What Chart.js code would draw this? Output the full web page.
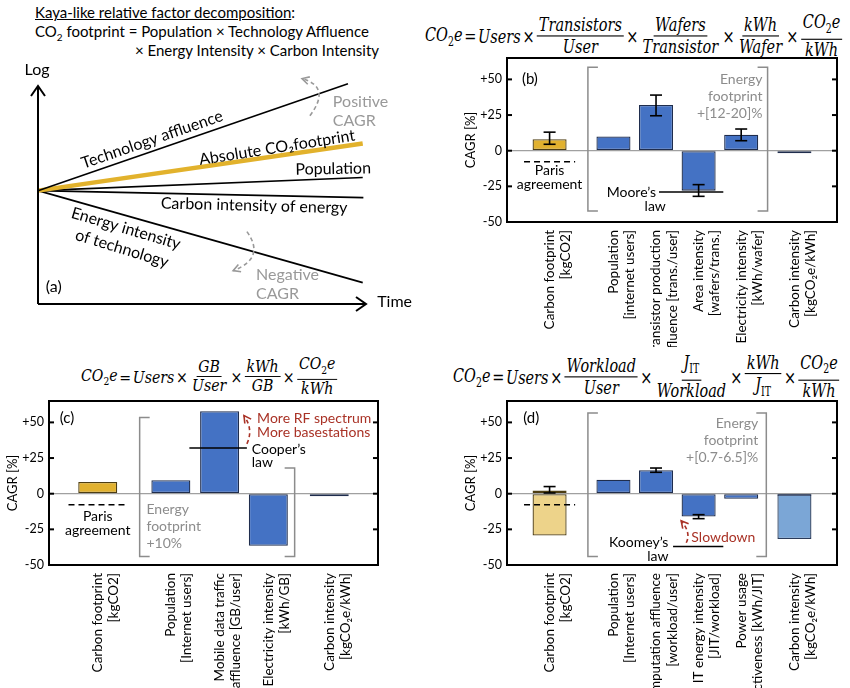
<!DOCTYPE html>
<html>
<head>
<meta charset="utf-8">
<script src="https://cdn.jsdelivr.net/npm/chart.js@4.4.1/dist/chart.umd.min.js"></script>
<style>
  body { margin: 0; background: #fff; width: 850px; height: 688px; position: relative; overflow: hidden; font-family: Lato, sans-serif; }
  canvas { position: absolute; }
  .txt { position: absolute; font-size: 15px; color: #000; white-space: nowrap; }
  .eq { position: absolute; display: flex; align-items: center; font-family: 'DejaVu Serif', serif; font-style: italic; font-size: 17px; white-space: nowrap; }
  .eq .op { font-style: normal; margin: 0 2px; }
  .eq sub { font-style: normal; font-size: 11px; }
  .fr { display: inline-flex; flex-direction: column; align-items: center; margin: 0 1px; }
  .fr > span { padding: 0 2px; line-height: 19px; }
  .fr > span:first-child { border-bottom: 1.3px solid #000; }
</style>
</head>
<body>

<div class="txt" style="left:35px; top:3px"><u>Kaya-like relative factor decomposition</u>:</div>
<div class="txt" style="left:35px; top:22px">CO<sub style="font-size:10px">2</sub> footprint = Population × Technology Affluence</div>
<div class="txt" style="left:135px; top:41px">× Energy Intensity × Carbon Intensity</div>

<div class="eq" id="eqB">
  <span>CO<sub>2</sub>e</span><span class="op">=</span><span>Users</span><span class="op">×</span>
  <span class="fr"><span>Transistors</span><span>User</span></span><span class="op">×</span>
  <span class="fr"><span>Wafers</span><span>Transistor</span></span><span class="op">×</span>
  <span class="fr"><span>kWh</span><span>Wafer</span></span><span class="op">×</span>
  <span class="fr"><span>CO<sub>2</sub>e</span><span>kWh</span></span>
</div>

<div class="eq" id="eqC">
  <span>CO<sub>2</sub>e</span><span class="op">=</span><span>Users</span><span class="op">×</span>
  <span class="fr"><span>GB</span><span>User</span></span><span class="op">×</span>
  <span class="fr"><span>kWh</span><span>GB</span></span><span class="op">×</span>
  <span class="fr"><span>CO<sub>2</sub>e</span><span>kWh</span></span>
</div>

<div class="eq" id="eqD">
  <span>CO<sub>2</sub>e</span><span class="op">=</span><span>Users</span><span class="op">×</span>
  <span class="fr"><span>Workload</span><span>User</span></span><span class="op">×</span>
  <span class="fr"><span>J<sub>IT</sub></span><span>Workload</span></span><span class="op">×</span>
  <span class="fr"><span>kWh</span><span>J<sub>IT</sub></span></span><span class="op">×</span>
  <span class="fr"><span>CO<sub>2</sub>e</span><span>kWh</span></span>
</div>

<canvas id="chartA" width="425" height="260" style="left:0; top:60px"></canvas>
<canvas id="chartB" width="425" height="297" style="left:425px; top:50px"></canvas>
<canvas id="chartC" width="425" height="293" style="left:0; top:395px"></canvas>
<canvas id="chartD" width="425" height="293" style="left:425px; top:395px"></canvas>

<script>
// ---- panel (a): schematic trends (log scale vs time) ----
const aSeries = ['Technology affluence', 'Absolute CO2 footprint', 'Population', 'Carbon intensity of energy', 'Energy intensity of technology'];
const aEndTime = [9.45, 9.9, 9.9, 9.92, 9.9];
const aEndLog = [4.9, 2.16, 0.6, -0.32, -4.22];

// ---- shared y ticks of the CAGR panels ----
const yTicks = [-50, -25, 0, 25, 50];
const parisTarget = -7.7;

// ---- panel (b): semiconductor manufacturing ----
const bLabels = [['Carbon footprint', '[kgCO2]'], ['Population', '[internet users]'], ['Transistor production', 'affluence [trans./user]'],
  ['Area intensity', '[wafers/trans.]'], ['Electricity intensity', '[kWh/wafer]'], ['Carbon intensity', '[kgCO₂e/kWh]']];
const bSlots = [1, 2.5, 3.5, 4.5, 5.5, 6.75];
const bValues = [8, 10, 32, -28, 11.2, -1.8];
const bErrLow = [4.5, null, 24.5, -32, 7, null];
const bErrHigh = [13, null, 39, -23.8, 15.2, null];

// ---- panel (c): mobile networks ----
const cLabels = [['Carbon footprint', '[kgCO2]'], ['Population', '[Internet users]'], ['Mobile data traffic', 'affluence [GB/user]'],
  ['Electricity intensity', '[kWh/GB]'], ['Carbon intensity', '[kgCO₂e/kWh]']];
const cSlots = [1, 2.5, 3.5, 4.5, 5.75];
const cValues = [8.2, 9.5, 57.8, -36.5, -1.8];

// ---- panel (d): data centres ----
const dLabels = [['Carbon footprint', '[kgCO2]'], ['Population', '[Internet users]'], ['Computation affluence', '[workload/user]'],
  ['IT energy intensity', '[JIT/workload]'], ['Power usage', 'effectiveness [kWh/JIT]'], ['Carbon intensity', '[kgCO₂e/kWh]']];
const dSlots = [1, 2.5, 3.5, 4.5, 5.5, 6.75];
const dValues = [2.3, 9.8, 16.4, -16, -3.5, -1.5];
const dLowScenario = [-29.3, null, null, null, null, -31.8];
const dErrLow = [0.5, null, 15, -17.5, null, null];
const dErrHigh = [5, null, 18, -14.7, null, null];

const GOLD = '#E1B12F', GOLD_EDGE = '#4d3d12', BLUE = '#4472C4', BLUE_EDGE = '#1F2D4D';
const GRAY = '#8c8c8c', RED = '#A93226';
const FONT = 'Lato, sans-serif';

// fit the formulas to the box they take in the figure
function fitEq(id, left, right, midY, tall) {
  const el = document.getElementById(id);
  el.style.left = left + 'px'; el.style.top = '0px'; el.style.transform = 'none';
  const w = el.offsetWidth, h = el.offsetHeight, kx = (right - left) / w, ky = kx * tall;
  el.style.transformOrigin = '0 0';
  el.style.transform = 'scale(' + kx + ',' + ky + ')';
  el.style.top = (midY - h * ky / 2) + 'px';
}
function fitAll() {
  fitEq('eqB', 425, 843, 36, 1.3);
  fitEq('eqC', 81, 338, 377, 1.15);
  fitEq('eqD', 453, 840, 377, 1.3);
}
fitAll();
if (document.fonts) document.fonts.ready.then(fitAll);

function seg(ctx, x1, y1, x2, y2) { ctx.beginPath(); ctx.moveTo(x1, y1); ctx.lineTo(x2, y2); ctx.stroke(); }
function textLines(ctx, arr, x, y, lh, align) {
  ctx.textAlign = align; ctx.textBaseline = 'middle';
  arr.forEach((s, k) => ctx.fillText(s, x, y + k * lh));
}
function bracket(ctx, px, top, bottom, dir) {
  ctx.beginPath(); ctx.moveTo(px + dir * 10, top); ctx.lineTo(px, top); ctx.lineTo(px, bottom); ctx.lineTo(px + dir * 10, bottom); ctx.stroke();
}
function curvedArrow(ctx, p0, pc, p1, color) {
  ctx.save();
  ctx.strokeStyle = color; ctx.lineWidth = 1.6; ctx.setLineDash([4, 3]);
  ctx.beginPath(); ctx.moveTo(p0[0], p0[1]); ctx.quadraticCurveTo(pc[0], pc[1], p1[0], p1[1]); ctx.stroke();
  ctx.setLineDash([]);
  const ang = Math.atan2(p1[1] - pc[1], p1[0] - pc[0]);
  ctx.beginPath();
  ctx.moveTo(p1[0] - 8 * Math.cos(ang - 0.5), p1[1] - 8 * Math.sin(ang - 0.5));
  ctx.lineTo(p1[0], p1[1]);
  ctx.lineTo(p1[0] - 8 * Math.cos(ang + 0.5), p1[1] - 8 * Math.sin(ang + 0.5));
  ctx.stroke();
  ctx.restore();
}
function rtext(ctx, s, x, y, deg) {
  ctx.save(); ctx.translate(x, y); ctx.rotate(deg * Math.PI / 180);
  ctx.textAlign = 'center'; ctx.textBaseline = 'middle'; ctx.fillText(s, 0, 0); ctx.restore();
}

// ---------- panel (a) ----------
new Chart(document.getElementById('chartA'), {
  type: 'scatter',
  data: {
    datasets: aSeries.map((name, i) => ({
      label: name,
      data: [{ x: 0, y: 0 }, { x: aEndTime[i], y: aEndLog[i] }],
      showLine: true, pointRadius: 0, clip: false,
      borderColor: i === 1 ? '#E2B22C' : '#000',
      borderWidth: i === 1 ? 4.5 : 1.6
    }))
  },
  options: {
    responsive: false, animation: false,
    layout: { padding: { left: 38, right: 59, top: 26, bottom: 16 } },
    plugins: { legend: { display: false }, tooltip: { enabled: false } },
    scales: {
      x: { type: 'linear', min: 0, max: 10, display: false },
      y: { type: 'linear', min: -5.2, max: 4.8, display: false }
    }
  },
  plugins: [{
    id: 'schematic',
    afterDatasetsDraw(chart) {
      const ctx = chart.ctx, xs = chart.scales.x, ys = chart.scales.y;
      const P = (x, y) => [xs.getPixelForValue(x), ys.getPixelForValue(y)];
      ctx.save();
      ctx.strokeStyle = '#000'; ctx.lineWidth = 2;
      const o = P(0, -5.2), top = P(0, 4.8), right = P(10, -5.2);
      seg(ctx, o[0], o[1], top[0], top[1]);
      seg(ctx, o[0], o[1], right[0], right[1]);
      ctx.beginPath(); ctx.moveTo(top[0] - 7, top[1] + 10); ctx.lineTo(top[0], top[1]); ctx.lineTo(top[0] + 7, top[1] + 10); ctx.stroke();
      ctx.beginPath(); ctx.moveTo(right[0] - 10, right[1] - 7); ctx.lineTo(right[0], right[1]); ctx.lineTo(right[0] - 10, right[1] + 7); ctx.stroke();

      ctx.fillStyle = '#000';
      ctx.font = '16px ' + FONT;
      let p = P(-0.03, 5.55); rtext(ctx, 'Log', p[0], p[1], 0);
      p = P(10.34, -5.09); ctx.textAlign = 'left'; ctx.textBaseline = 'middle'; ctx.fillText('Time', p[0], p[1]);
      p = P(3.48, 2.34); rtext(ctx, 'Technology affluence', p[0], p[1], -19);
      p = P(7.29, 1.97); rtext(ctx, 'Absolute CO₂footprint', p[0], p[1], -9);
      p = P(9.0, 1.0); rtext(ctx, 'Population', p[0], p[1], -1);
      p = P(6.59, -0.69); rtext(ctx, 'Carbon intensity of energy', p[0], p[1], 1.5);
      p = P(2.68, -1.74); rtext(ctx, 'Energy intensity', p[0], p[1], 16.5);
      p = P(2.56, -2.66); rtext(ctx, 'of technology', p[0], p[1], 17);
      p = P(0.24, -4.4); ctx.textAlign = 'left'; ctx.fillText('(a)', p[0], p[1]);

      ctx.fillStyle = '#999';
      p = P(8.99, 4.08); textLines(ctx, ['Positive', 'CAGR'], p[0], p[1], 19, 'left');
      p = P(6.65, -3.85); textLines(ctx, ['Negative', 'CAGR'], p[0], p[1], 19, 'left');
      curvedArrow(ctx, P(8.29, 3.44), P(8.95, 4.75), P(8.05, 5.14), '#999');
      curvedArrow(ctx, P(6.37, -1.88), P(6.95, -3.1), P(5.95, -3.67), '#999');
      ctx.restore();
    }
  }]
});

// ---------- CAGR bar panels ----------
function framePlugin(o) {
  return {
    id: 'frame',
    afterDatasetsDraw(chart) {
      const ctx = chart.ctx, a = chart.chartArea, xs = chart.scales.x, ys = chart.scales.y;
      const X = v => xs.getPixelForValue(v), Y = v => ys.getPixelForValue(v);
      ctx.save();
      // error bars
      if (o.errLow) {
        ctx.strokeStyle = '#000'; ctx.lineWidth = 1.6;
        o.errLow.forEach((lo, i) => {
          if (lo === null) return;
          const px = X(o.slots[i]), y1 = Y(lo), y2 = Y(o.errHigh[i]);
          seg(ctx, px, y1, px, y2);
          seg(ctx, px - 6, y1, px + 6, y1);
          seg(ctx, px - 6, y2, px + 6, y2);
        });
      }
      // Paris agreement target
      ctx.strokeStyle = '#000'; ctx.lineWidth = 1.6; ctx.setLineDash([6, 4]);
      seg(ctx, X(o.slots[0] - 0.6), Y(parisTarget), X(o.slots[0] + 0.6), Y(parisTarget));
      ctx.setLineDash([]);
      ctx.fillStyle = '#000'; ctx.font = '14px ' + FONT;
      o.draw(ctx, X, Y);
      // frame + inward ticks
      ctx.strokeStyle = '#000'; ctx.lineWidth = 2;
      ctx.strokeRect(a.left, a.top, a.right - a.left, a.bottom - a.top);
      yTicks.forEach(t => {
        const py = Y(t);
        seg(ctx, a.left, py, a.left + 5, py);
        seg(ctx, a.right - 5, py, a.right, py);
      });
      // axis title
      ctx.fillStyle = '#000'; ctx.font = '13px ' + FONT;
      rtext(ctx, 'CAGR [%]', a.left - 36, (a.top + a.bottom) / 2, -90);
      ctx.restore();
    }
  };
}

function barPanel(id, o) {
  return new Chart(document.getElementById(id), {
    type: 'bar',
    data: { datasets: o.datasets },
    options: {
      responsive: false, animation: false,
      layout: { padding: o.pad },
      plugins: { legend: { display: false }, tooltip: { enabled: false } },
      datasets: { bar: { categoryPercentage: 0.8, barPercentage: 1, grouped: false } },
      scales: {
        x: {
          type: 'linear', min: 0, max: o.xMax, offset: false,
          grid: { display: false }, border: { display: false },
          afterBuildTicks: s => { s.ticks = o.slots.map(v => ({ value: v })); },
          afterFit: s => { s.height = o.xAxisH; s.paddingLeft = 0; s.paddingRight = 0; },
          ticks: { autoSkip: false, minRotation: 90, maxRotation: 90, padding: 0, color: '#000',
            font: { family: FONT, size: 13.5 }, callback: (v, i) => o.labels[i] }
        },
        y: {
          min: -50, max: 65,
          afterBuildTicks: s => { s.ticks = yTicks.map(v => ({ value: v })); },
          afterFit: s => { s.width = o.yAxisW; s.paddingTop = 0; s.paddingBottom = 0; },
          grid: { color: c => (c.tick && c.tick.value === 0) ? '#a0a0a0' : 'rgba(0,0,0,0)', drawTicks: false, lineWidth: 1.2 },
          border: { display: false },
          ticks: { padding: 5, color: '#000', font: { family: FONT, size: 12.5 }, callback: v => v > 0 ? '+' + v : String(v) }
        }
      }
    },
    plugins: [framePlugin(o)]
  });
}

const pts = (slots, vals) => slots.map((s, i) => ({ x: s, y: vals[i] }));
const mainColors = n => ({
  backgroundColor: Array.from({ length: n }, (_, i) => i === 0 ? GOLD : (i === n - 1 ? '#24345C' : BLUE)),
  borderColor: Array.from({ length: n }, (_, i) => i === 0 ? GOLD_EDGE : BLUE_EDGE),
  borderWidth: 1.3, borderSkipped: false
});

barPanel('chartB', {
  labels: bLabels, slots: bSlots, xMax: 7.75, errLow: bErrLow, errHigh: bErrHigh,
  pad: { left: 0, right: 13, top: 8, bottom: 0 }, yAxisW: 82, xAxisH: 125,
  datasets: [Object.assign({ data: pts(bSlots, bValues) }, mainColors(bValues.length))],
  draw(ctx, X, Y) {
    textLines(ctx, ['Paris', 'agreement'], X(1), Y(-14.2), 14, 'center');
    ctx.strokeStyle = GRAY; ctx.lineWidth = 1.5;
    bracket(ctx, X(1.9), Y(58.6), Y(-42.2), 1);
    bracket(ctx, X(6.12), Y(58.6), Y(-42.2), -1);
    ctx.fillStyle = GRAY;
    textLines(ctx, ['Energy', 'footprint', '+[12-20]%'], X(6.0), Y(50), 17, 'right');
    ctx.fillStyle = '#000'; ctx.strokeStyle = '#000'; ctx.lineWidth = 1.6;
    seg(ctx, X(3.57), Y(-29), X(5.08), Y(-29));
    textLines(ctx, ["Moore’s"], X(3.5), Y(-29), 14, 'right');
    textLines(ctx, ['law'], X(3.48), Y(-38.9), 14, 'center');
    ctx.font = '15px ' + FONT;
    textLines(ctx, ['(b)'], X(0.35), Y(50), 14, 'left');
  }
});

barPanel('chartC', {
  labels: cLabels, slots: cSlots, xMax: 6.75,
  pad: { left: 0, right: 47, top: 6, bottom: 0 }, yAxisW: 49, xAxisH: 123,
  datasets: [Object.assign({ data: pts(cSlots, cValues) }, mainColors(cValues.length))],
  draw(ctx, X, Y) {
    textLines(ctx, ['Paris', 'agreement'], X(1), Y(-16.2), 14, 'center');
    ctx.strokeStyle = GRAY; ctx.lineWidth = 1.5;
    bracket(ctx, X(1.86), Y(53.4), Y(-44), 1);
    bracket(ctx, X(5.04), Y(18), Y(-44), -1);
    ctx.fillStyle = GRAY;
    textLines(ctx, ['Energy', 'footprint', '+10%'], X(2.0), Y(-11.2), 17, 'left');
    ctx.fillStyle = '#000'; ctx.strokeStyle = '#000'; ctx.lineWidth = 1.6;
    seg(ctx, X(2.88), Y(32), X(4.06), Y(32));
    textLines(ctx, ["Cooper’s", 'law'], X(4.16), Y(30.9), 13, 'left');
    ctx.fillStyle = RED;
    textLines(ctx, ['More RF spectrum', 'More basestations'], X(4.27), Y(52.7), 14, 'left');
    curvedArrow(ctx, [X(4.06), Y(35)], [X(4.2), Y(45)], [X(4.0), Y(54.8)], RED);
    ctx.fillStyle = '#000'; ctx.font = '15px ' + FONT;
    textLines(ctx, ['(c)'], X(0.22), Y(52.7), 14, 'left');
  }
});

barPanel('chartD', {
  labels: dLabels, slots: dSlots, xMax: 7.75, errLow: dErrLow, errHigh: dErrHigh,
  pad: { left: 0, right: 13, top: 6, bottom: 0 }, yAxisW: 82, xAxisH: 123,
  datasets: [
    Object.assign({ data: pts(dSlots, dValues) }, mainColors(dValues.length)),
    {
      data: pts(dSlots, dLowScenario),
      backgroundColor: dSlots.map((_, i) => i === 0 ? '#EDD38A' : '#7BA6D6'),
      borderColor: dSlots.map((_, i) => i === 0 ? GOLD_EDGE : '#2A3B5A'),
      borderWidth: 1.3, borderSkipped: false
    }
  ],
  draw(ctx, X, Y) {
    ctx.strokeStyle = GRAY; ctx.lineWidth = 1.5;
    bracket(ctx, X(1.9), Y(56.6), Y(-44), 1);
    bracket(ctx, X(6.09), Y(56.6), Y(-44), -1);
    ctx.fillStyle = GRAY;
    textLines(ctx, ['Energy', 'footprint', '+[0.7-6.5]%'], X(5.9), Y(49.2), 17, 'right');
    ctx.fillStyle = '#000'; ctx.strokeStyle = '#000'; ctx.lineWidth = 1.6;
    seg(ctx, X(3.9), Y(-37), X(5.08), Y(-37));
    textLines(ctx, ["Koomey’s", 'law'], X(3.79), Y(-34.4), 14, 'right');
    ctx.fillStyle = RED;
    textLines(ctx, ['Slowdown'], X(4.33), Y(-30.9), 14, 'left');
    curvedArrow(ctx, [X(4.21), Y(-34.4)], [X(4.33), Y(-27.5)], [X(4.09), Y(-19)], RED);
    ctx.fillStyle = '#000'; ctx.font = '15px ' + FONT;
    textLines(ctx, ['(d)'], X(0.38), Y(52.7), 14, 'left');
  }
});
</script>
</body>
</html>
